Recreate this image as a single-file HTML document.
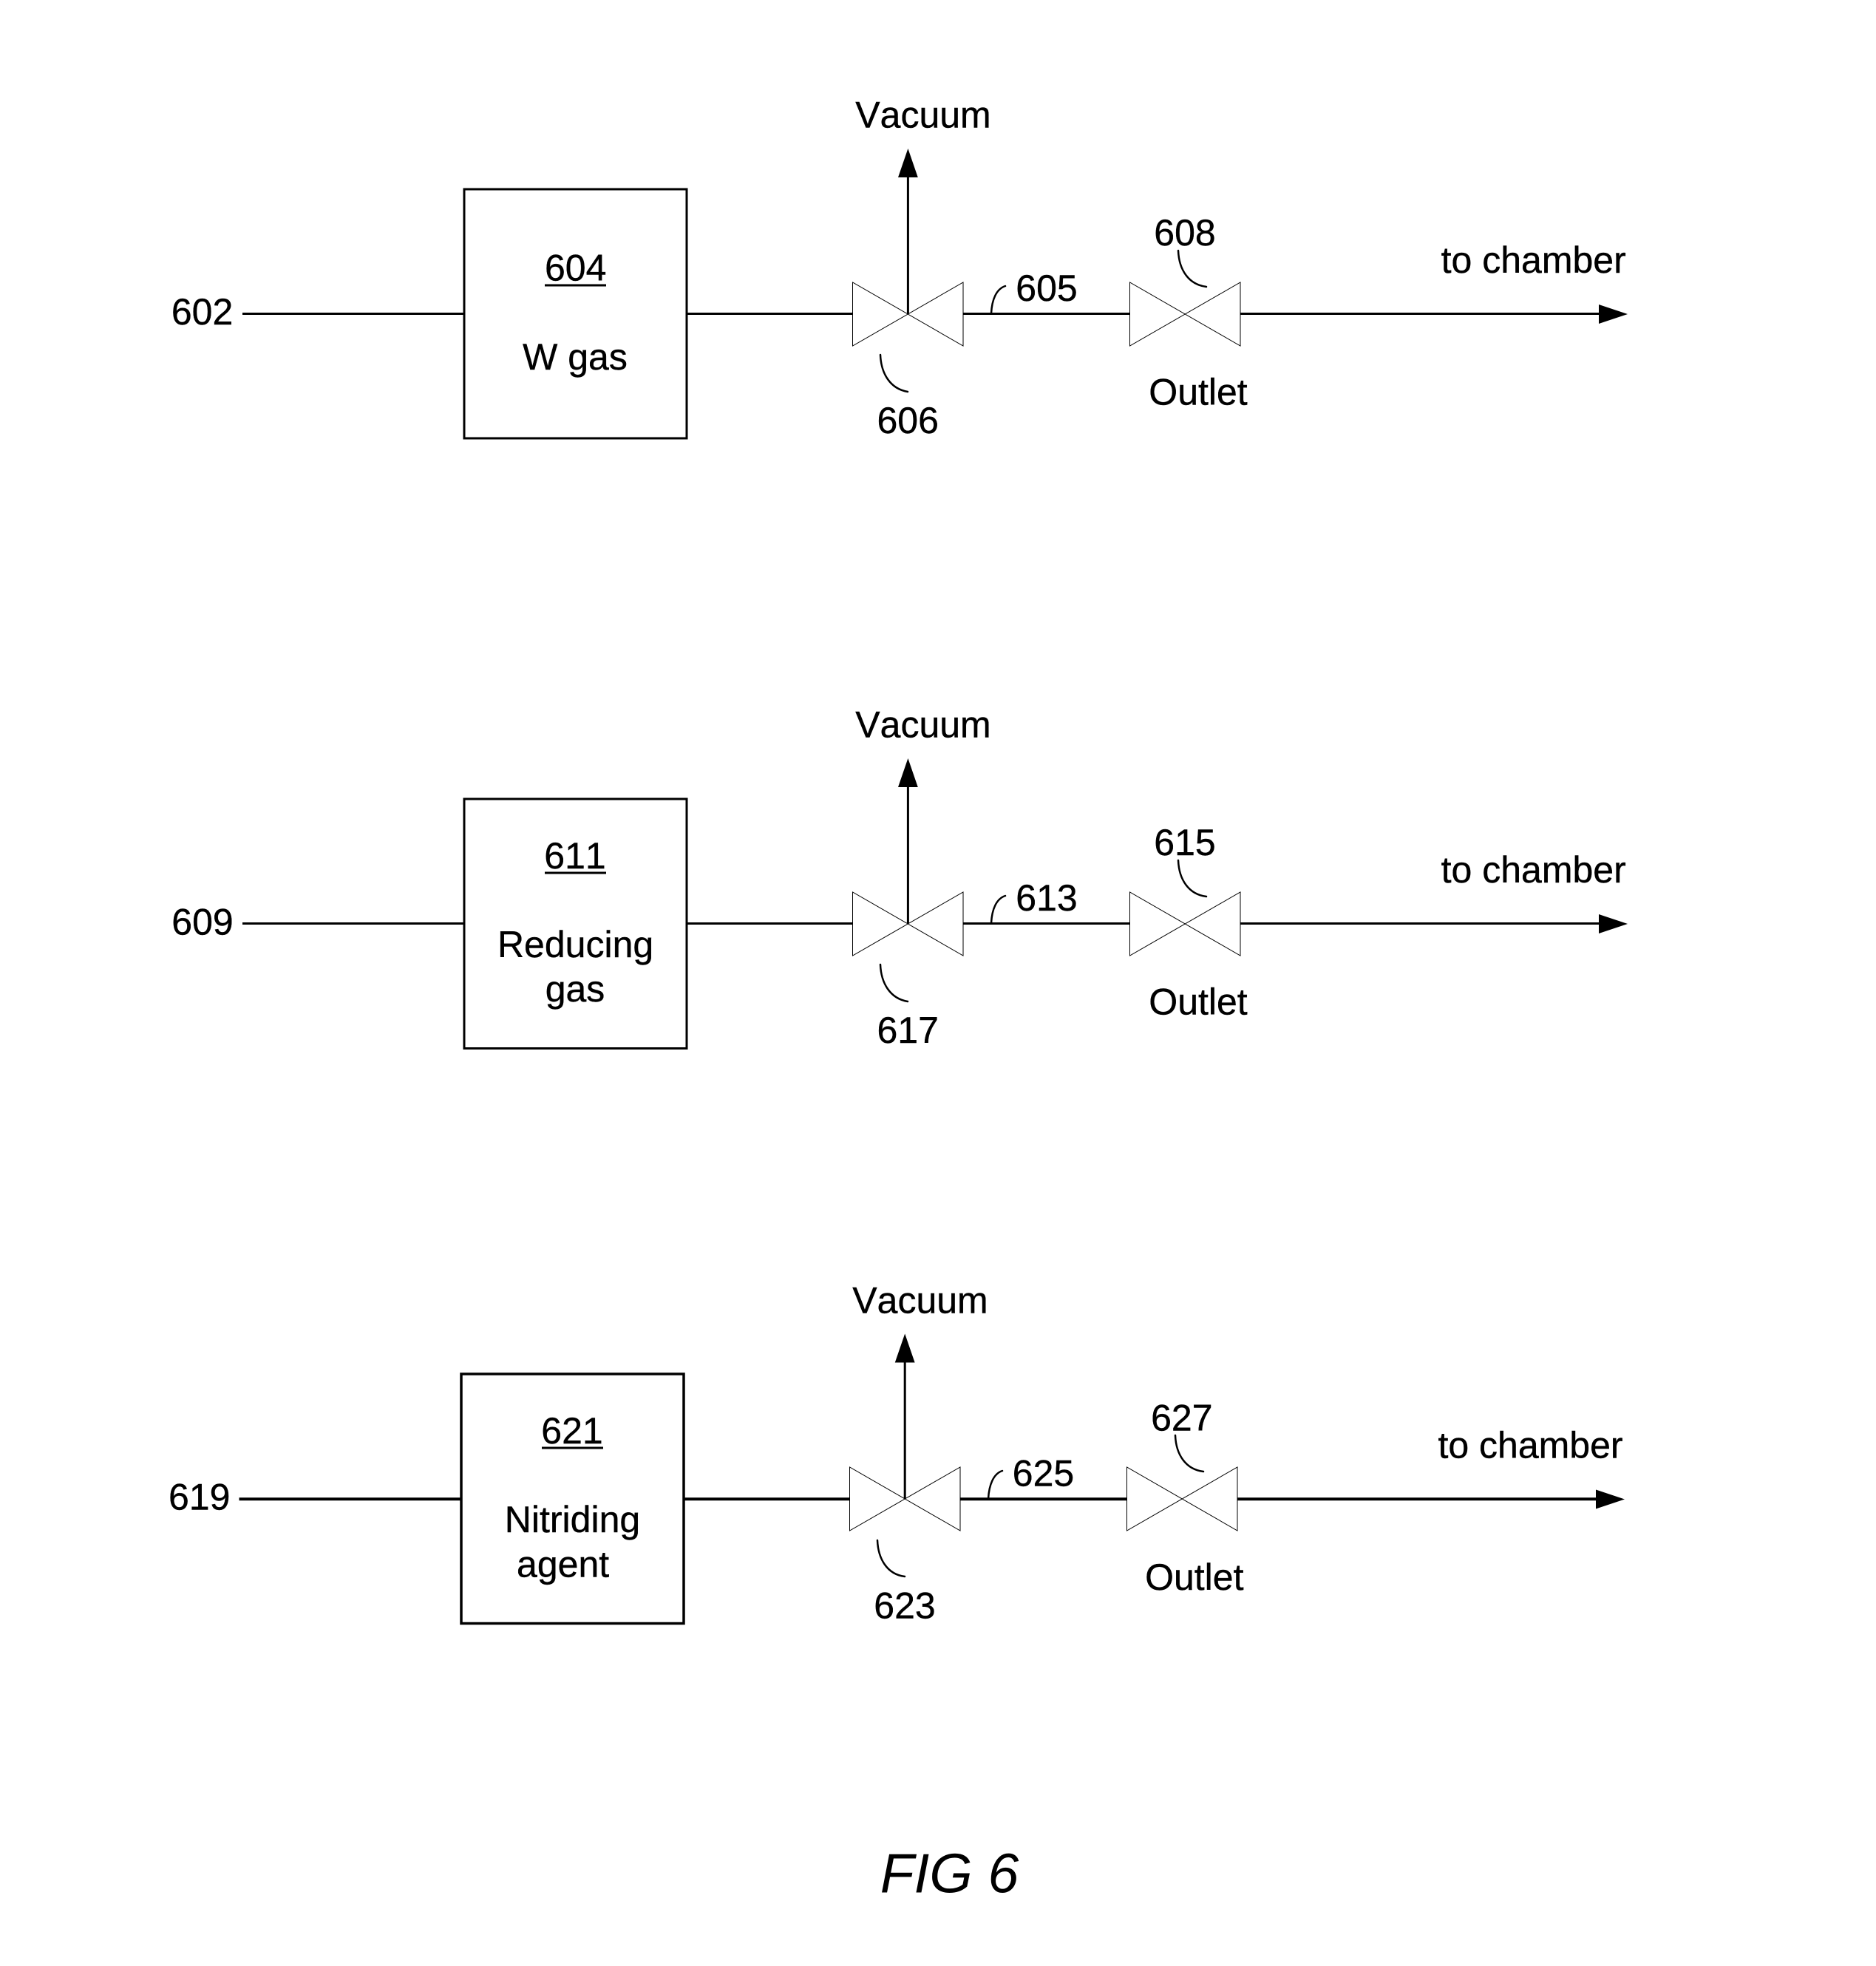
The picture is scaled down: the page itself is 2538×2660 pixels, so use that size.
<!DOCTYPE html>
<html>
<head>
<meta charset="utf-8">
<style>
html,body{margin:0;padding:0;background:#fff;}
svg{display:block;}
text{font-family:"Liberation Sans",sans-serif;font-size:50px;fill:#000;stroke:#000;stroke-width:.4;text-anchor:middle;font-kerning:none;}
.p{fill:none;stroke:#000;stroke-width:3;}
.t{fill:none;stroke:#000;stroke-width:1;}
.l{fill:none;stroke:#000;stroke-width:2.5;stroke-linecap:round;}
.f{fill:#000;stroke:none;}
</style>
</head>
<body>
<svg xmlns="http://www.w3.org/2000/svg" width="2538" height="2660" viewBox="0 0 2538 2660">
<rect width="2538" height="2660" fill="#fff"/>

<!-- Row 1 -->
<g>
<rect class="p" x="628" y="256" width="301" height="337"/>
<path class="p" d="M328 424.5H628M929 424.5H1153M1303 424.5H1528M1678 424.5H2170"/>
<path class="p" d="M1228.4 424.5V235"/>
<path class="t" d="M1153.5 382V468L1303 382V468Z"/>
<path class="t" d="M1528.5 382V468L1678 382V468Z"/>
<polygon class="f" points="1228.4,201 1241.8,240 1215,240"/>
<polygon class="f" points="2163,412 2202,425 2163,438"/>
<path class="l" d="M1341 424C1342 405 1348 391 1360 387"/>
<path class="l" d="M1594 339C1595 365 1608 385 1632 388"/>
<path class="l" d="M1191 480C1192 505 1204 526 1228 530"/>
<text x="1249" y="172.7">Vacuum</text>
<text x="273.6" y="439">602</text>
<text x="778.7" y="379.5">604</text>
<rect class="f" x="737" y="384.5" width="83" height="3"/>
<text x="778" y="500">W gas</text>
<text x="1416" y="407">605</text>
<text x="1603" y="332">608</text>
<text x="2074.7" y="369">to chamber</text>
<text x="1621" y="547.5">Outlet</text>
<text x="1228.2" y="586">606</text>
</g>

<!-- Row 2 -->
<g>
<rect class="p" x="628" y="1081" width="301" height="337.5"/>
<path class="p" d="M328 1249.5H628M929 1249.5H1153M1303 1249.5H1528M1678 1249.5H2170"/>
<path class="p" d="M1228.4 1249.5V1060"/>
<path class="t" d="M1153.5 1207V1293L1303 1207V1293Z"/>
<path class="t" d="M1528.5 1207V1293L1678 1207V1293Z"/>
<polygon class="f" points="1228.4,1026 1241.8,1065 1215,1065"/>
<polygon class="f" points="2163,1237 2202,1250 2163,1263"/>
<path class="l" d="M1341 1249C1342 1230 1348 1216 1360 1212"/>
<path class="l" d="M1594 1164C1595 1190 1608 1210 1632 1213"/>
<path class="l" d="M1191 1305C1192 1330 1204 1351 1228 1355"/>
<text x="1249" y="997.7">Vacuum</text>
<text x="274" y="1264.5">609</text>
<text x="778" y="1175">611</text>
<rect class="f" x="737" y="1179.5" width="83" height="3"/>
<text x="778.6" y="1295">Reducing</text>
<text x="778" y="1355">gas</text>
<text x="1416" y="1232">613</text>
<text x="1603" y="1157">615</text>
<text x="2074.7" y="1194">to chamber</text>
<text x="1621" y="1372.5">Outlet</text>
<text x="1228.2" y="1411">617</text>
</g>

<!-- Row 3 -->
<g>
<rect class="p" x="624" y="1859" width="301" height="337.5" style="stroke-width:3.5"/>
<path class="p" style="stroke-width:4" d="M323.5 2028.3H624M925 2028.3H1149M1299 2028.3H1524M1674 2028.3H2166"/>
<path class="p" d="M1224.2 2028V1839"/>
<path class="t" d="M1149.5 1985V2071L1299 1985V2071Z"/>
<path class="t" d="M1524.5 1985V2071L1674 1985V2071Z"/>
<polygon class="f" points="1224.2,1804.5 1237.6,1843.5 1210.8,1843.5"/>
<polygon class="f" points="2159,2015.5 2198,2028.5 2159,2041.5"/>
<path class="l" d="M1337 2028C1338 2009 1344 1994 1356 1990"/>
<path class="l" d="M1590 1942C1591 1968 1604 1988 1628 1991"/>
<path class="l" d="M1187 2084C1188 2109 1200 2130 1224 2133"/>
<text x="1245" y="1776.3">Vacuum</text>
<text x="269.7" y="2042.7">619</text>
<text x="774" y="1953">621</text>
<rect class="f" x="733" y="1957.5" width="83" height="3"/>
<text x="774.5" y="2073">Nitriding</text>
<text x="761.6" y="2133.5">agent</text>
<text x="1411.5" y="2010.6">625</text>
<text x="1598.8" y="1935.6">627</text>
<text x="2070.5" y="1972.6">to chamber</text>
<text x="1615.8" y="2151">Outlet</text>
<text x="1224" y="2189.6">623</text>
</g>

<text x="1284.5" y="2560.7" style="font-size:75px;font-style:italic;stroke-width:0">FIG 6</text>
</svg>
</body>
</html>
